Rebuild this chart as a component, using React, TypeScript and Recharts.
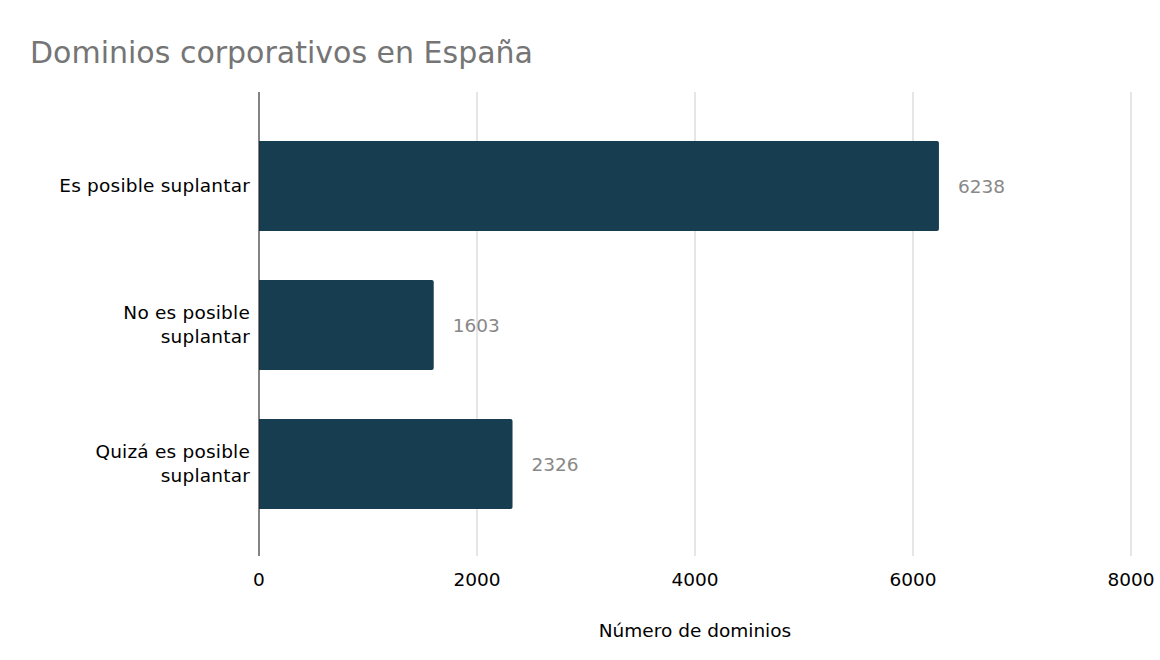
import { BarChart, Bar, XAxis, YAxis, CartesianGrid, LabelList } from "recharts";

const categories = ["Es posible suplantar", "No es posible suplantar", "Quizá es posible suplantar"];
const tickLines = [["Es posible suplantar"], ["No es posible", "suplantar"], ["Quizá es posible", "suplantar"]];
const values = [6238, 1603, 2326];
const xTicks = [0, 2000, 4000, 6000, 8000];

const font = "'DejaVu Sans', Verdana, sans-serif";
const barColor = "#163d50";

const data = categories.map((name, i) => ({ name, value: values[i] }));

// multi-line category label, right-aligned against the axis
function CategoryTick({ x, y, index }: any) {
  const lines = tickLines[index] ?? [];
  const lh = 24;
  const start = -((lines.length - 1) * lh) / 2;
  return (
    <text x={x} y={y} textAnchor="end" fontSize={18.5} fill="#000" fontFamily={font} letterSpacing={0.2}>
      {lines.map((l, i) => (
        <tspan key={i} x={x} y={y + start + i * lh} dy="0.36em">
          {l}
        </tspan>
      ))}
    </text>
  );
}

export default function App() {
  return (
    <div style={{ position: "absolute", left: 0, top: 0, width: 1160, height: 660, background: "#fff", fontFamily: font }}>
      <BarChart
        width={1160}
        height={660}
        data={data}
        layout="vertical"
        margin={{ top: 92, right: 29, left: 0, bottom: 44 }}
      >
        <CartesianGrid horizontal={false} stroke="#cccccc" />
        <XAxis
          type="number"
          domain={[0, 8000]}
          ticks={xTicks}
          axisLine={false}
          tickLine={false}
          tickSize={0}
          tickMargin={17}
          height={60}
          tick={{ fontSize: 18.5, fill: "#000", fontFamily: font }}
        />
        <YAxis
          type="category"
          dataKey="name"
          width={259}
          axisLine={{ stroke: "#222" }}
          tickLine={false}
          tickSize={0}
          tickMargin={9}
          padding={{ top: 24, bottom: 23 }}
          tick={<CategoryTick />}
        />
        <Bar dataKey="value" fill={barColor} barSize={90} radius={[0, 2, 2, 0]} isAnimationActive={false}>
          <LabelList dataKey="value" position="right" offset={19} fill="#888" fontSize={18.5} fontFamily={font} />
        </Bar>
      </BarChart>
      <svg width={1160} height={660} style={{ position: "absolute", left: 0, top: 0, pointerEvents: "none" }}>
        <text x={30} y={63} fontSize={30} fill="#757575" fontFamily={font}>
          Dominios corporativos en España
        </text>
        <text x={695} y={637} fontSize={18.5} fill="#000" textAnchor="middle" fontFamily={font}>
          Número de dominios
        </text>
      </svg>
    </div>
  );
}
